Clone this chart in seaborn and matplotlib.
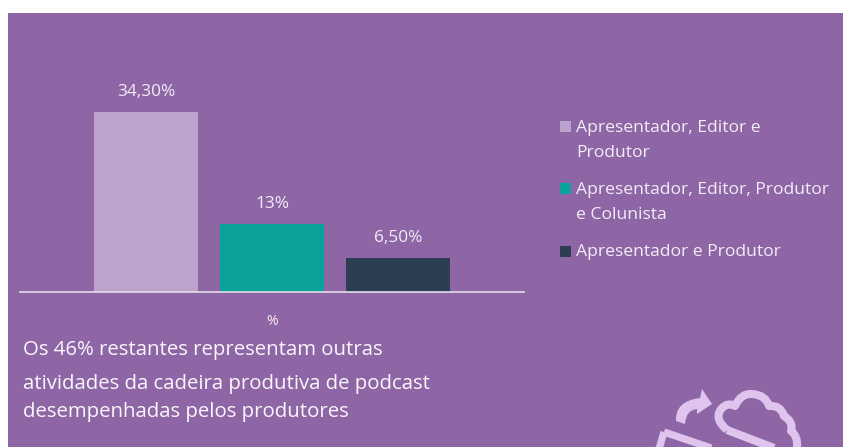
import matplotlib
matplotlib.use("Agg")
import matplotlib.pyplot as plt
import matplotlib.patches as mp
from matplotlib.path import Path
import pandas as pd
import seaborn as sns

W, H = 843, 447
PANEL = "#8E66A6"
LINE = "#DFC4EE"
TEXT = "#F3ECF6"

serie = ["Apresentador, Editor e\nProdutor",
         "Apresentador, Editor, Produtor\ne Colunista",
         "Apresentador e Produtor"]
valores = [34.3, 13.0, 6.5]
rotulos = ["34,30%", "13%", "6,50%"]
cores = ["#BBA3CD", "#0BA29B", "#2E3E52"]
categoria = ["%"]
nota = ["Os 46% restantes representam outras",
        "atividades da cadeira produtiva de podcast",
        "desempenhadas pelos produtores"]

sns.set_theme(style="white")
plt.rcParams["font.family"] = ["Open Sans", "DejaVu Sans"]

fig = plt.figure(figsize=(W / 100, H / 100), dpi=100, facecolor="white")
fundo = fig.add_axes([0, 0, 1, 1], xlim=(0, W), ylim=(H, 0), zorder=0)
fundo.axis("off")
fundo.add_patch(mp.Rectangle((8, 13), W - 8, H - 13, color=PANEL, lw=0))

ax = fig.add_axes([20 / W, (H - 292) / H, (524 - 20) / W, (292 - 82) / H], zorder=1)
ax.patch.set_alpha(0)
df = pd.DataFrame({"cat": categoria * 3, "serie": serie, "valor": valores})
sns.barplot(data=df, x="cat", y="valor", hue="serie", hue_order=serie,
            palette=cores, saturation=1, width=0.75, gap=0.18, linewidth=0,
            legend=False, ax=ax)
ax.set_ylim(0, 40)
ax.set_xlim(-0.5, 0.5)
ax.set(xlabel="", ylabel="", yticks=[])
ax.tick_params(axis="x", length=0, pad=15.5, labelsize=10, labelcolor=TEXT)
sns.despine(ax=ax, left=True)
ax.spines["bottom"].set_color("#E4DCEA")
ax.spines["bottom"].set_linewidth(1.2)
for barra, txt in zip(ax.patches, rotulos):
    ax.annotate(txt, (barra.get_x() + barra.get_width() / 2, barra.get_height()),
                xytext=(0, 14), textcoords="offset points", ha="center", va="center",
                color=TEXT, fontsize=12.4)

# Legend drawn by hand to keep its two-line entries aligned with the swatches
for y, cor in zip([126, 188, 251], cores):
    fundo.add_patch(mp.Rectangle((560, y - 5.5), 11, 11, color=cor, lw=0))
for y, txt in zip([128, 190, 252], serie):
    fundo.text(576, y, txt.split("\n")[0], color=TEXT, fontsize=12.6, va="center", ha="left")
    if "\n" in txt:
        fundo.text(576, y + 25, txt.split("\n")[1], color=TEXT, fontsize=12.6, va="center", ha="left")

for y, linha in zip([350, 384, 412], nota):
    fundo.text(23, y, linha, color="#FAF6FB", fontsize=14.7, va="center", ha="left")

# Cloud-and-screen emblem, cut off by the lower edge
fundo.add_patch(mp.Polygon([[664, 432], [726, 453], [726, 480], [650, 480]], closed=True,
                           fill=False, ec=LINE, lw=5.2, joinstyle="miter"))
nuvem = [(727, 430), (713, 418), (722, 408), (728, 402), (735, 406), (741, 393), (752, 394),
         (766, 395), (769, 406), (781, 405), (784, 416), (794, 422), (791, 431), (798, 436),
         (797, 447), (795, 456), (727, 430)]
cod = [Path.MOVETO] + [Path.CURVE3] * 14 + [Path.LINETO, Path.CLOSEPOLY]
fundo.add_patch(mp.PathPatch(Path(nuvem, cod), fill=False, ec=LINE, lw=5.8, joinstyle="round"))
seta = [(676, 421), (675, 401), (700, 398), (702, 389), (712, 404), (697, 414),
        (697, 409), (686, 410), (685, 424), (676, 421)]
cod_seta = [Path.MOVETO, Path.CURVE3, Path.CURVE3, Path.LINETO, Path.LINETO, Path.LINETO,
            Path.LINETO, Path.CURVE3, Path.CURVE3, Path.CLOSEPOLY]
fundo.add_patch(mp.PathPatch(Path(seta, cod_seta), fc=LINE, ec="none"))

fig.savefig("out.png", dpi=100)
